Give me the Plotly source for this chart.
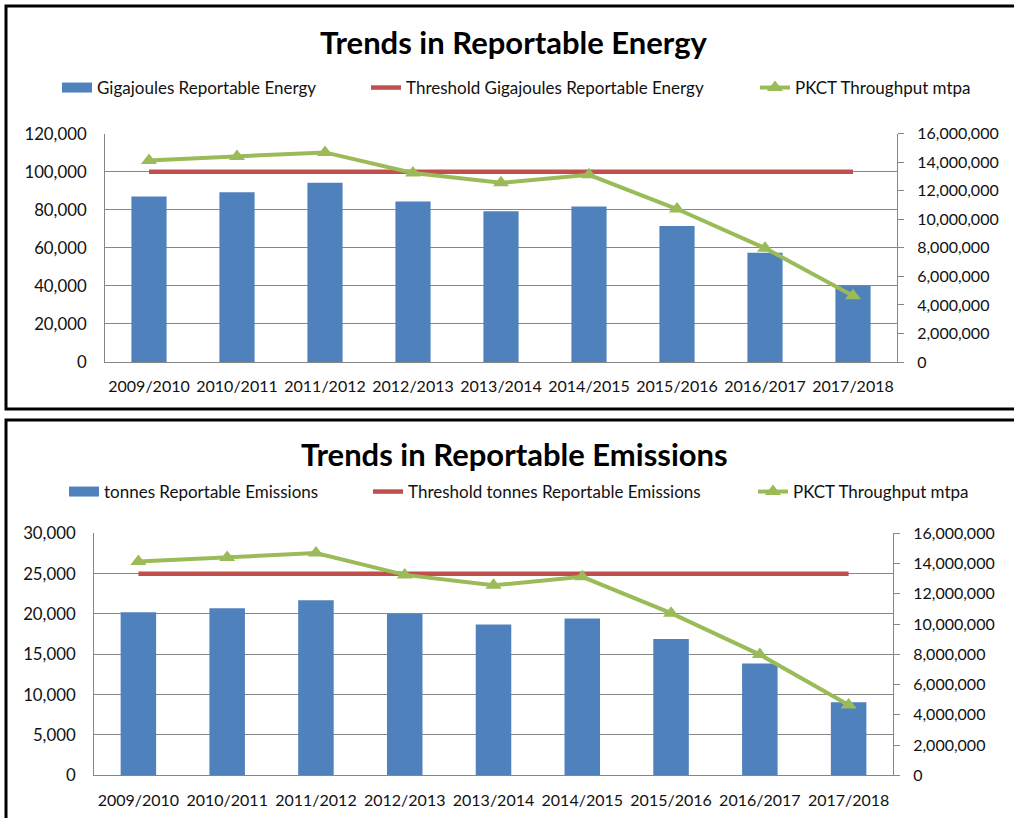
import plotly.graph_objects as go

# ---------------- data ----------------
categories = ["2009/2010", "2010/2011", "2011/2012", "2012/2013", "2013/2014",
              "2014/2015", "2015/2016", "2016/2017", "2017/2018"]
energy_gj = [87000, 89200, 94200, 84400, 79200, 81800, 71500, 57400, 40100]
energy_threshold = [100000] * 9
emissions_t = [20200, 20700, 21700, 20000, 18700, 19450, 16900, 13850, 9050]
emissions_threshold = [25000] * 9
throughput_mtpa = [14130000, 14400000, 14690000, 13250000, 12560000,
                   13120000, 10720000, 7980000, 4650000]

energy_labels = ["Gigajoules Reportable Energy", "Threshold Gigajoules Reportable Energy",
                 "PKCT Throughput mtpa"]
emission_labels = ["tonnes Reportable Emissions", "Threshold tonnes Reportable Emissions",
                   "PKCT Throughput mtpa"]
titles = ["Trends in Reportable Energy", "Trends in Reportable Emissions"]

# ---------------- styling ----------------
W, H = 1014, 818
BLUE = "#4F81BD"
RED = "#C0504D"
GREEN = "#9BBB59"
GRID = "#868686"
FONT = "Lato"
TXT = "#111111"


def px(x):
    return x / W


def py(y):
    return 1 - y / H


fig = go.Figure()

charts = [
    dict(vals=energy_gj, thr=energy_threshold, labels=energy_labels, xa="x", ya="y", ya2="y2",
         legs=["legend", "legend2", "legend3"]),
    dict(vals=emissions_t, thr=emissions_threshold, labels=emission_labels, xa="x2", ya="y3", ya2="y4",
         legs=["legend4", "legend5", "legend6"]),
]

for c in charts:
    # bars
    fig.add_trace(go.Bar(x=categories, y=c["vals"], marker=dict(color=BLUE, line=dict(width=0)),
                         width=0.4, xaxis=c["xa"], yaxis=c["ya"], showlegend=False))
    # legend swatch for bars (Excel-like flat rectangle)
    fig.add_trace(go.Scatter(x=[None], y=[None], mode="lines", line=dict(color=BLUE, width=10),
                             name=c["labels"][0], xaxis=c["xa"], yaxis=c["ya"], legend=c["legs"][0]))
    # threshold
    fig.add_trace(go.Scatter(x=categories, y=c["thr"], mode="lines", line=dict(color=RED, width=4.5),
                             name=c["labels"][1], xaxis=c["xa"], yaxis=c["ya"], legend=c["legs"][1]))
    # throughput
    fig.add_trace(go.Scatter(x=categories, y=throughput_mtpa, mode="lines+markers",
                             line=dict(color=GREEN, width=4),
                             marker=dict(symbol="triangle-up", size=14, color=GREEN),
                             name=c["labels"][2], xaxis=c["xa"], yaxis=c["ya2"], legend=c["legs"][2]))

tickfont = dict(family=FONT, size=16, color=TXT)
ytickfont = dict(family=FONT, size=16.8, color=TXT)

xcommon = dict(type="category", range=[-0.5, 8.5], showline=True, linecolor=GRID, linewidth=1,
               showgrid=False, ticks="", tickfont=tickfont, fixedrange=True)
ycommon = dict(showline=True, linecolor=GRID, linewidth=1, showgrid=True, gridcolor=GRID,
               gridwidth=1, zeroline=False, tickformat=",d", tickfont=ytickfont, ticks="",
               ticklabelstandoff=14)
ycommon_r = dict(showline=True, linecolor=GRID, linewidth=1, showgrid=False, zeroline=False,
                 tickformat=",d", tickfont=tickfont, ticks="outside", ticklen=6, tickcolor=GRID,
                 range=[0, 16000000], dtick=2000000, ticklabelstandoff=10)

fig.update_layout(
    xaxis=dict(domain=[px(105), px(897)], anchor="y", ticklabelstandoff=10, **xcommon),
    yaxis=dict(domain=[py(362), py(133.7)], anchor="x", range=[0, 120000], dtick=20000, **ycommon),
    yaxis2=dict(overlaying="y", side="right", anchor="x", **ycommon_r),
    xaxis2=dict(domain=[px(94), px(893)], anchor="y3", ticklabelstandoff=10, **xcommon),
    yaxis3=dict(domain=[py(775.3), py(533.3)], anchor="x2", range=[0, 30000], dtick=5000, **ycommon),
    yaxis4=dict(overlaying="y3", side="right", anchor="x2", **ycommon_r),
)

legfont = dict(family=FONT, size=17, color=TXT)
leg_pos = {
    "legend": (99, 88), "legend2": (408, 88), "legend3": (797, 88),
    "legend4": (106, 492), "legend5": (410, 492), "legend6": (795, 492),
}
for k, (tx, ty) in leg_pos.items():
    fig.update_layout({k: dict(x=px(tx - 42), y=py(ty), xanchor="left", yanchor="middle",
                               orientation="h", font=legfont, bgcolor="rgba(0,0,0,0)",
                               borderwidth=0, itemclick=False, itemdoubleclick=False)})

fig.add_annotation(text="<b>" + titles[0] + "</b>", x=px(514), y=py(42), xref="paper", yref="paper",
                   xanchor="center", yanchor="middle", showarrow=False,
                   font=dict(family=FONT, size=31, color="black"))
fig.add_annotation(text="<b>" + titles[1] + "</b>", x=px(514), y=py(454), xref="paper", yref="paper",
                   xanchor="center", yanchor="middle", showarrow=False,
                   font=dict(family=FONT, size=31, color="black"))

# chart frames
fig.add_shape(type="rect", xref="paper", yref="paper", x0=px(6), x1=px(1030), y0=py(409), y1=py(6),
              line=dict(color="black", width=3), fillcolor="rgba(0,0,0,0)")
fig.add_shape(type="rect", xref="paper", yref="paper", x0=px(6), x1=px(1030), y0=py(840), y1=py(420),
              line=dict(color="black", width=3), fillcolor="rgba(0,0,0,0)")

fig.update_layout(
    width=W, height=H, margin=dict(l=0, r=0, t=0, b=0, autoexpand=False),
    paper_bgcolor="white", plot_bgcolor="white", bargap=0.6,
    font=dict(family=FONT, color=TXT),
)

fig.write_html("out.html", config={"displayModeBar": False},
               post_script="document.body.style.margin='0';document.body.style.overflow='hidden';")
